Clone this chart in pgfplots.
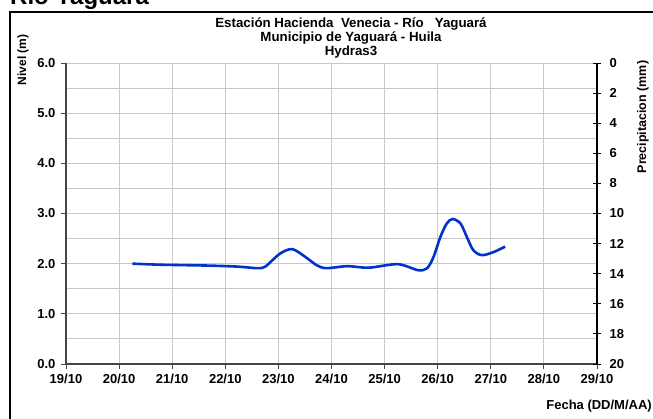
\documentclass[border=0pt]{standalone}
\usepackage{fontspec}
\setmainfont{Liberation Sans}
\usepackage{pgfplots}
\pgfplotsset{compat=1.18}

\definecolor{serie}{RGB}{0,51,204}
\definecolor{rejilla}{RGB}{200,200,200}
\definecolor{ejegris}{RGB}{70,70,70}

\newcommand{\tickfont}{\fontsize{13}{15}\selectfont\bfseries}

\begin{document}
\begin{tikzpicture}[x=1pt,y=1pt]
\useasboundingbox (0,0) rectangle (653,418);
\begin{scope}
  \clip (0,0) rectangle (653,418);
  \draw[line width=2.5pt] (10,-20) -- (10,406) -- (700,406);
  \node[anchor=base west, inner sep=0, font=\fontsize{24}{28}\selectfont\bfseries] at (10,413.5) {Río Yaguará};
\end{scope}

% nivel (eje izquierdo)
\begin{axis}[
  at={(66pt,54pt)}, anchor=south west, scale only axis,
  width=531pt, height=301pt,
  xmin=19, xmax=29, ymin=0, ymax=6,
  xtick={19,...,29},
  xticklabels={19/10,20/10,21/10,22/10,23/10,24/10,25/10,26/10,27/10,28/10,29/10},
  ytick={0,1,...,6}, minor ytick={0.5,1.5,...,5.5},
  yticklabel style={xshift=-2pt, /pgf/number format/.cd, fixed, fixed zerofill, precision=1},
  xticklabel style={yshift=-2pt},
  /pgf/number format/assume math mode=true,
  axis x line*=bottom, axis y line*=left,
  grid=both,
  major grid style={rejilla, line width=1pt},
  minor grid style={rejilla, line width=1pt},
  tick align=outside, major tick length=5pt, minor tick length=0pt,
  tick style={ejegris, line width=1pt},
  axis line style={ejegris, line width=1.5pt, -},
  tick label style={font=\tickfont},
]
\addplot[serie, line width=2.6pt, smooth, tension=0.5] coordinates {
  (20.25,2.00) (20.75,1.98) (21.25,1.97) (21.75,1.96) (22.25,1.94)
  (22.60,1.91) (22.75,1.94) (23.03,2.20) (23.26,2.29) (23.50,2.14)
  (23.72,1.97) (23.90,1.91) (24.30,1.95) (24.70,1.92) (25.25,1.99)
  (25.63,1.87) (25.80,1.91) (25.92,2.13) (26.05,2.53) (26.17,2.80)
  (26.28,2.89) (26.43,2.80) (26.55,2.53) (26.67,2.27) (26.83,2.17)
  (27.05,2.23) (27.27,2.34)
};
\end{axis}

% precipitacion (eje derecho, invertido)
\begin{axis}[
  at={(66pt,54pt)}, anchor=south west, scale only axis,
  width=531pt, height=301pt,
  xmin=19, xmax=29, ymin=0, ymax=20, y dir=reverse,
  axis x line=none, axis y line*=right,
  ytick={0,2,...,20},
  yticklabel style={xshift=5pt},
  /pgf/number format/assume math mode=true,
  tick align=center, major tick length=8pt,
  tick style={black, line width=1pt},
  axis line style={black, line width=1.2pt, -},
  tick label style={font=\tickfont},
]
\addplot[draw=none] coordinates {(19,0) (29,20)};
\end{axis}

\node[rotate=90, font=\fontsize{12}{14}\selectfont\bfseries] at (23,358) {Nivel (m)};
\node[rotate=90, font=\fontsize{12.5}{14}\selectfont\bfseries] at (643,301) {Precipitacion (mm)};
\node[anchor=base east, inner sep=0, font=\fontsize{13}{15}\selectfont\bfseries] at (652,9) {Fecha (DD/M/AA)};

\begin{scope}[every node/.style={anchor=base, inner sep=0, font=\fontsize{13.3}{15}\selectfont\bfseries}]
  \node at (351,390) {Estación Hacienda\ \ Venecia - Río\ \ \ Yaguará};
  \node at (351,376) {Municipio de Yaguará - Huila};
  \node at (351,362) {Hydras3};
\end{scope}
\end{tikzpicture}
\end{document}
